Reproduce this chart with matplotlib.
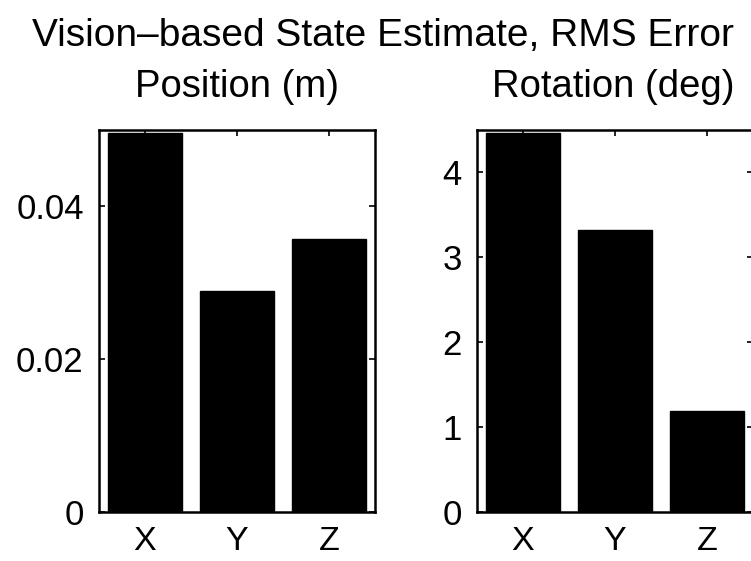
import numpy as np
import matplotlib
matplotlib.use("Agg")
import matplotlib.pyplot as plt

plt.rcParams['font.family'] = ['Liberation Sans', 'DejaVu Sans']

# values
axes_names = ['X', 'Y', 'Z']
pos_rms = [0.0496, 0.0289, 0.0357]   # m
rot_rms = [4.46, 3.32, 1.19]         # deg
pos_ticks = [0, 0.02, 0.04]
pos_ticklabels = ['0', '0.02', '0.04']
rot_ticks = [0, 1, 2, 3, 4]

W, H = 751, 561
fig = plt.figure(figsize=(W / 100, H / 100), dpi=100)

def px_axes(x0, x1, ytop, ybot):
    return fig.add_axes([x0 / W, (H - ybot) / H, (x1 - x0) / W, (ybot - ytop) / H])

ax1 = px_axes(99, 375, 130, 512)
ax2 = px_axes(477, 753, 130, 512)

def style(ax, vals, ylim, ticks, labels=None):
    x = np.arange(1, len(vals) + 1)
    ax.bar(x, vals, width=0.8, color='black', edgecolor='black', linewidth=1)
    ax.set_xlim(0.5, 3.5)
    ax.set_ylim(0, ylim)
    ax.set_xticks(x)
    ax.set_xticklabels(axes_names, fontsize=24.5)
    ax.set_yticks(ticks)
    if labels is not None:
        ax.set_yticklabels(labels)
    ax.tick_params(axis='y', labelsize=25, pad=11)
    ax.tick_params(axis='x', pad=10)
    ax.tick_params(direction='in', length=4, width=1.2, top=True, right=True)
    for s in ax.spines.values():
        s.set_linewidth(1.8)

style(ax1, pos_rms, 0.05, pos_ticks, pos_ticklabels)
style(ax2, rot_rms, 4.5, rot_ticks)

fig.text(383 / W, 1 - 46 / H, 'Vision\u2013based State Estimate, RMS Error',
         ha='center', va='baseline', fontsize=28)
fig.text(237 / W, 1 - 97 / H, 'Position (m)', ha='center', va='baseline', fontsize=27.5)
fig.text(613 / W, 1 - 97 / H, 'Rotation (deg)', ha='center', va='baseline', fontsize=27.5)

fig.savefig('out.png', dpi=100)
